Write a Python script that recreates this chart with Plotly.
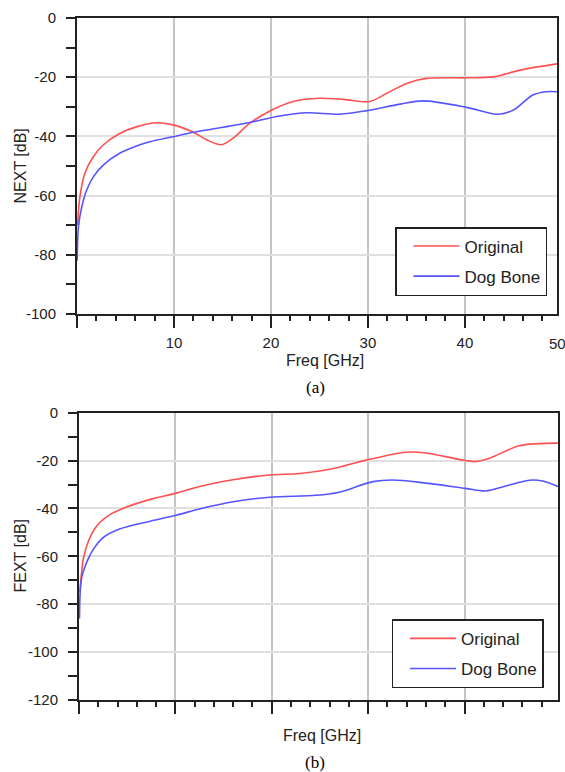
import plotly.graph_objects as go

# ---- Data ----
# (a) NEXT
next_orig_f = [0.05, 0.3, 0.8, 1.7, 2.7, 4.4, 6.2, 8.2, 9.9, 12.0, 13.4, 14.9, 16.1, 17.8, 19.9,
               22.3, 25.0, 27.5, 30.2, 31.9, 34.0, 36.0, 40.2, 42.9, 45.7, 49.5]
next_orig_db = [-70, -60.4, -52.5, -46.8, -42.9, -39.0, -36.7, -35.4, -36.1, -38.6, -41.2, -42.8, -40.6,
                -35.6, -31.4, -28.2, -27.1, -27.5, -28.2, -25.5, -22.1, -20.4, -20.2, -19.9, -17.6, -15.5]
next_dog_f = [0.02, 0.15, 0.5, 1.0, 1.7, 2.7, 4.4, 6.2, 7.5, 9.9, 12.0, 15.1, 17.8, 20.9, 23.7,
              27.1, 29.9, 33.3, 35.7, 40.2, 43.3, 45.0, 47.0, 48.4, 49.5]
next_dog_db = [-82, -70.5, -63.7, -58.1, -53.6, -49.7, -45.7, -43.2, -41.8, -40.1, -38.6, -36.9, -35.3,
               -33.1, -32.0, -32.5, -31.3, -29.1, -28.0, -30.2, -32.5, -31.1, -26.0, -24.9, -24.9]

# (b) FEXT
fext_orig_f = [0.1, 0.45, 1.0, 1.8, 3.2, 4.8, 7.6, 10.1, 12.5, 16.0, 19.8, 22.9, 26.3, 29.8, 33.9,
               36.0, 40.1, 41.2, 42.6, 45.7, 49.7]
fext_orig_db = [-75, -61, -53.4, -47.5, -42.6, -39.6, -36.0, -33.6, -30.8, -28.0, -26.0, -25.4, -23.4,
                -19.8, -16.5, -16.8, -20.0, -20.4, -19.0, -13.8, -12.7]
fext_dog_f = [0.05, 0.25, 0.8, 1.5, 2.5, 4.2, 7.4, 10.1, 12.5, 16.0, 19.8, 24.6, 27.0, 30.5, 32.5,
              36.0, 40.1, 42.2, 44.3, 46.7, 48.1, 49.7]
fext_dog_db = [-86, -69.5, -62.4, -57.0, -52.2, -48.6, -45.3, -42.8, -40.2, -37.2, -35.3, -34.5, -33.2,
               -28.8, -28.1, -29.4, -31.6, -32.7, -30.6, -28.2, -28.5, -30.8]

series_names = ["Original", "Dog Bone"]
x_ticks = [0, 10, 20, 30, 40, 50]
x_ticktext_a = ["", "10", "20", "30", "40", ""]
y_ticks_a = [0, -20, -40, -60, -80, -100]
y_ticks_b = [0, -20, -40, -60, -80, -100, -120]

RED = "rgb(255,80,80)"
BLUE = "rgb(85,85,255)"
SANS = "Liberation Sans, Arial, sans-serif"
SERIF = "Liberation Serif, Times New Roman, serif"
INK = "#222"

W, H = 565, 772

fig = go.Figure()

def add(xv, yv, name, color, xa, ya, legend, group):
    fig.add_trace(go.Scatter(
        x=xv, y=yv, name=name, mode="lines",
        line=dict(color=color, width=1.6, shape="spline", smoothing=0.9),
        xaxis=xa, yaxis=ya, legend=legend, legendgroup=group))

add(next_orig_f, next_orig_db, series_names[0], RED, "x", "y", "legend", "a1")
add(next_dog_f, next_dog_db, series_names[1], BLUE, "x", "y", "legend", "a2")
add(fext_orig_f, fext_orig_db, series_names[0], RED, "x2", "y2", "legend2", "b1")
add(fext_dog_f, fext_dog_db, series_names[1], BLUE, "x2", "y2", "legend2", "b2")

def xaxis_common(domain, rng, anchor, ticktext):
    return dict(
        domain=domain, range=rng, anchor=anchor, automargin=False,
        tickvals=x_ticks, ticktext=ticktext,
        ticks="outside", ticklen=12, tickwidth=2, tickcolor=INK,
        minor=dict(dtick=2, tick0=0, ticks="outside", ticklen=5, tickwidth=1.5,
                   tickcolor=INK, showgrid=False),
        showgrid=True, gridcolor="#c4c4c4", gridwidth=2,
        showline=True, linecolor=INK, linewidth=2, mirror=True,
        zeroline=False, tickfont=dict(family=SANS, size=15, color=INK),
        ticklabelstandoff=2, fixedrange=True)

def yaxis_common(domain, rng, anchor, ticks):
    return dict(
        domain=domain, range=rng, anchor=anchor, automargin=False,
        tickvals=ticks, ticktext=[("-%d" % -t) if t else "0" for t in ticks],
        ticks="outside", ticklen=9, tickwidth=1.5, tickcolor=INK,
        minor=dict(dtick=10, tick0=0, ticks="outside", ticklen=9, tickwidth=1.5,
                   tickcolor=INK, showgrid=False),
        showgrid=True, gridcolor="#e0e0e0", gridwidth=2,
        showline=True, linecolor=INK, linewidth=2, mirror=True,
        zeroline=False, tickfont=dict(family=SANS, size=15, color=INK),
        ticklabelstandoff=7, fixedrange=True)

legend_style = dict(
    font=dict(family=SANS, size=17, color=INK),
    bordercolor=INK, borderwidth=1.5, bgcolor="white",
    xanchor="right", yanchor="top", itemwidth=46, indentation=12,
    traceorder="grouped", tracegroupgap=5)

fig.update_layout(
    width=W, height=H, autosize=False,
    margin=dict(l=0, r=0, t=0, b=0, autoexpand=False),
    paper_bgcolor="white", plot_bgcolor="white",
    xaxis=xaxis_common([77 / W, 557 / W], [0, 49.5], "y", x_ticktext_a),
    yaxis=yaxis_common([(H - 314) / H, (H - 18) / H], [-100, 0], "x", y_ticks_a),
    xaxis2=xaxis_common([79 / W, 558 / W], [0, 49.7], "y2", [""] * 6),
    yaxis2=yaxis_common([(H - 700) / H, (H - 412.7) / H], [-120, 0], "x2", y_ticks_b),
    legend=dict(x=547 / W, y=(H - 227) / H, **legend_style),
    legend2=dict(x=543.5 / W, y=(H - 619.3) / H, **legend_style),
    showlegend=True,
)

ann = [
    dict(text="50", xref="x domain", yref="paper", x=1.0, y=(H - 343) / H,
         font=dict(family=SANS, size=15, color=INK)),
    dict(text="Freq [GHz]", xref="paper", yref="paper", x=325 / W, y=(H - 360) / H,
         font=dict(family=SANS, size=16, color=INK)),
    dict(text="(a)", xref="paper", yref="paper", x=315 / W, y=(H - 387) / H,
         font=dict(family=SERIF, size=17, color="black")),
    dict(text="NEXT [dB]", xref="paper", yref="paper", x=19.5 / W, y=(H - 166) / H,
         textangle=-90, font=dict(family=SANS, size=16, color=INK)),
    dict(text="FEXT [dB]", xref="paper", yref="paper", x=19.5 / W, y=(H - 556) / H,
         textangle=-90, font=dict(family=SANS, size=16, color=INK)),
    dict(text="Freq [GHz]", xref="paper", yref="paper", x=321.5 / W, y=(H - 735) / H,
         font=dict(family=SANS, size=16, color=INK)),
    dict(text="(b)", xref="paper", yref="paper", x=315 / W, y=(H - 762) / H,
         font=dict(family=SERIF, size=17, color="black")),
]
for a in ann:
    a.update(showarrow=False, xanchor="center", yanchor="middle")
fig.update_layout(annotations=ann)

fig.write_html(
    "out.html",
    config={"displayModeBar": False},
    post_script="document.body.style.margin='0';document.body.style.overflow='hidden';",
)
